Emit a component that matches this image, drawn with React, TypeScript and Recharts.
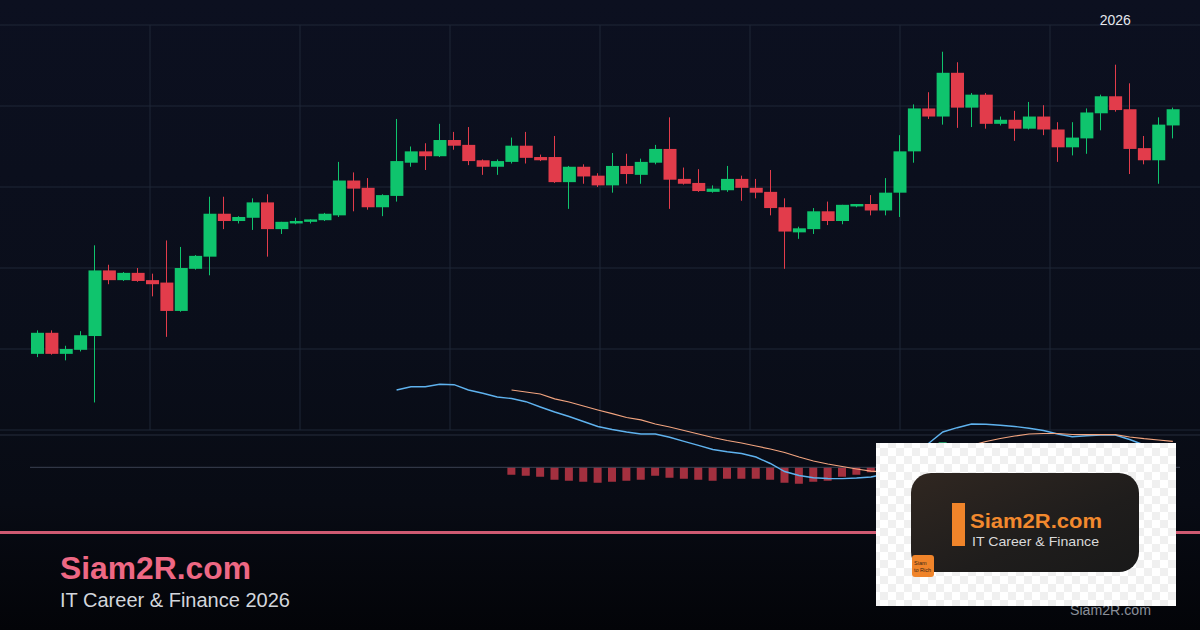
import React from "react";
import {
  Bar,
  CartesianGrid,
  Cell,
  ComposedChart,
  Line,
  ReferenceLine,
  XAxis,
  YAxis,
} from "recharts";

const FONT = '"Liberation Sans", Arial, Helvetica, sans-serif';
const WIDTH = 1200;
const HEIGHT = 630;

// daily candles (weekdays), first session of the series
const FIRST_DAY = Date.UTC(2025, 8, 18);
const DAY_COUNT = 80;
const dates: string[] = [];
for (let t = FIRST_DAY; dates.length < DAY_COUNT; t += 86400000) {
  const wd = new Date(t).getUTCDay();
  if (wd !== 0 && wd !== 6) dates.push(new Date(t).toISOString().slice(0, 10));
}

const OPEN = [
  109.4, 112.0, 109.4, 109.9, 111.6, 119.7, 118.5, 119.4, 118.5, 118.2,
  114.7, 119.9, 121.4, 126.7, 125.8, 126.2, 128.1, 124.8, 125.5, 125.7,
  125.9, 126.5, 130.8, 129.9, 127.5, 128.9, 133.0, 134.4, 133.8, 135.8,
  135.2, 133.3, 132.5, 133.1, 135.1, 133.7, 133.7, 130.6, 132.5, 131.4,
  130.2, 132.6, 131.5, 133.0, 134.7, 131.0, 130.5, 129.4, 129.6, 131.0,
  129.9, 129.4, 127.5, 124.4, 124.8, 127.0, 125.8, 127.6, 127.9, 127.1,
  129.3, 134.4, 139.7, 138.7, 144.1, 139.8, 141.4, 137.8, 138.3, 137.2,
  138.7, 137.1, 134.9, 136.0, 139.1, 141.2, 139.6, 134.8, 133.3, 137.6,
];
const HIGH = [
  112.3, 112.3, 110.4, 112.2, 122.8, 120.4, 119.5, 120.0, 119.3, 123.4,
  122.6, 121.6, 128.8, 128.8, 126.4, 128.6, 129.1, 125.7, 126.2, 126.0,
  126.8, 133.1, 131.8, 131.1, 129.1, 138.4, 135.0, 135.4, 137.8, 136.8,
  137.4, 133.4, 133.4, 136.1, 136.8, 134.0, 136.3, 132.6, 132.8, 131.7,
  134.2, 134.1, 133.5, 135.2, 138.6, 132.4, 132.2, 130.2, 132.6, 131.4,
  131.0, 132.1, 128.6, 125.1, 127.4, 128.2, 127.8, 127.9, 129.0, 131.1,
  136.4, 140.2, 141.7, 146.7, 145.4, 141.6, 141.6, 138.7, 139.4, 140.5,
  140.1, 138.0, 138.0, 139.7, 141.4, 145.1, 142.8, 136.3, 138.6, 139.8,
];
const LOW = [
  109.0, 109.3, 108.6, 109.7, 103.4, 118.0, 118.4, 118.3, 116.5, 111.5,
  114.6, 119.8, 119.1, 124.8, 125.5, 124.7, 121.4, 124.2, 125.4, 125.5,
  125.8, 126.3, 127.0, 127.2, 126.4, 128.2, 132.5, 132.1, 133.7, 134.6,
  132.7, 131.5, 131.5, 132.9, 132.9, 133.2, 130.5, 127.3, 130.4, 130.0,
  129.3, 130.4, 130.4, 132.8, 127.3, 130.3, 129.4, 129.3, 129.4, 128.3,
  128.6, 126.5, 119.9, 123.6, 124.2, 125.3, 125.4, 127.5, 126.5, 126.5,
  126.3, 133.0, 138.4, 137.7, 137.3, 137.4, 137.2, 137.6, 135.7, 137.1,
  136.4, 133.1, 133.9, 134.1, 137.0, 139.3, 131.6, 132.8, 130.4, 136.0,
];
const CLOSE = [
  112.0, 109.4, 110.0, 111.7, 119.7, 118.5, 119.4, 118.4, 118.0, 114.7,
  120.0, 121.5, 126.7, 125.8, 126.3, 128.1, 124.8, 125.7, 125.8, 126.0,
  126.7, 130.8, 129.8, 127.5, 129.0, 133.2, 134.4, 133.8, 135.8, 135.1,
  133.2, 132.5, 133.2, 135.1, 133.6, 133.3, 130.6, 132.5, 131.3, 130.2,
  132.6, 131.6, 133.1, 134.7, 130.9, 130.4, 129.5, 129.8, 131.0, 129.9,
  129.3, 127.4, 124.5, 124.9, 127.0, 125.8, 127.8, 127.9, 127.1, 129.3,
  134.4, 139.7, 138.7, 144.1, 139.8, 141.4, 137.8, 138.3, 137.2, 138.7,
  137.1, 134.9, 136.1, 139.2, 141.2, 139.5, 134.7, 133.3, 137.7, 139.6,
];

const MACD: (number | null)[] = [
  null, null, null, null, null, null, null, null, null, null,
  null, null, null, null, null, null, null, null, null, null,
  null, null, null, null, null, 7.73, 8.06, 8.06, 8.3, 8.26,
  7.73, 7.4, 7.03, 6.88, 6.56, 6.03, 5.53, 5.08, 4.58, 4.08,
  3.78, 3.53, 3.33, 3.33, 3.0, 2.6, 2.2, 1.78, 1.56, 1.38,
  1.03, 0.38, -0.42, -0.82, -1.04, -1.12, -1.13, -1.07, -0.97, -0.67,
  0.13, 1.23, 2.38, 3.53, 3.96, 4.33, 4.3, 4.2, 4.08, 3.9,
  3.68, 3.33, 3.06, 3.15, 3.23, 3.23, 2.78, 2.23, 1.83, 1.73,
];
const SIGNAL: (number | null)[] = [
  null, null, null, null, null, null, null, null, null, null,
  null, null, null, null, null, null, null, null, null, null,
  null, null, null, null, null, null, null, null, null, null,
  null, null, null, 7.73, 7.53, 7.33, 6.85, 6.53, 6.13, 5.73,
  5.36, 4.98, 4.75, 4.33, 4.03, 3.68, 3.33, 2.98, 2.68, 2.43,
  2.13, 1.83, 1.48, 1.03, 0.63, 0.33, 0.08, -0.17, -0.39, -0.45,
  -0.3, 0.05, 0.5, 1.0, 1.7, 2.2, 2.58, 2.88, 3.13, 3.33,
  3.38, 3.38, 3.28, 3.26, 3.26, 3.26, 3.03, 2.86, 2.73, 2.6,
];
const HIST: (number | null)[] = [
  null, null, null, null, null, null, null, null, null, null,
  null, null, null, null, null, null, null, null, null, null,
  null, null, null, null, null, null, null, null, null, null,
  null, null, null, -0.74, -0.84, -0.94, -1.24, -1.34, -1.44, -1.54,
  -1.44, -1.34, -1.24, -0.84, -1.04, -1.14, -1.24, -1.34, -1.14, -1.14,
  -1.14, -1.24, -1.54, -1.64, -1.44, -1.34, -0.94, -0.74, -0.5, -0.22,
  0.43, 1.18, 1.88, 2.53, 2.26, 2.13, 1.72, 1.32, 0.95, 0.57,
  0.3, -0.05, -0.22, -0.11, -0.03, -0.03, -0.25, -0.63, -0.9, 0,
];

const PRICE_TICKS = [100, 110, 120, 130, 140, 150];
const GRID_COLUMNS = [1, 2, 3, 4, 5, 6, 7];
const GRID_COLUMN_COUNT = 8;
const AXIS_PADDING = { left: 30, right: 20 };
const PANEL_DIVIDER = 3.23;

const GREEN = "#0fc46d";
const RED = "#e23c4b";
const GRID = "#1f2636";
const MACD_COLOR = "#5fb2ee";
const SIGNAL_COLOR = "#f2a47f";
const HIST_DOWN = "#a3303f";
const HIST_UP = "#1f8a5e";

const data = dates.map((date, i) => ({
  date,
  open: OPEN[i],
  high: HIGH[i],
  low: LOW[i],
  close: CLOSE[i],
  macd: MACD[i],
  signal: SIGNAL[i],
  hist: HIST[i],
}));

// first session of each new year gets a label on the top axis
const yearTicks = dates.filter(
  (d, i) => i > 0 && d.slice(0, 4) !== dates[i - 1].slice(0, 4)
);

const Candle = (props: any) => {
  const { x, y, width, height, payload } = props;
  if (!payload || height == null) return null;
  const { open, close, high, low } = payload;
  const top = Math.min(y, y + height);
  const h = Math.abs(height);
  const color = close >= open ? GREEN : RED;
  const k = h / (high - low);
  const bodyTop = top + (high - Math.max(open, close)) * k;
  const bodyBottom = top + (high - Math.min(open, close)) * k;
  const cx = Math.round(x + width / 2) - 0.5;
  return (
    <g>
      <line x1={cx} x2={cx} y1={top} y2={top + h} stroke={color} strokeWidth={1} />
      <rect
        x={x}
        y={bodyTop}
        width={width}
        height={Math.max(1.5, bodyBottom - bodyTop)}
        fill={color}
      />
    </g>
  );
};

// zero line only spans the candle range, not the whole panel
const ZeroLine = (p: any) => (
  <line
    x1={p.x1 + AXIS_PADDING.left}
    x2={p.x2 - AXIS_PADDING.right}
    y1={p.y1}
    y2={p.y2}
    stroke="#3b4252"
    strokeWidth={1}
  />
);

const layer: React.CSSProperties = { position: "absolute", left: 0, top: 0 };

export default function App() {
  return (
    <div
      style={{
        position: "absolute",
        left: 0,
        top: 0,
        width: WIDTH,
        height: HEIGHT,
        overflow: "hidden",
        fontFamily: FONT,
        background:
          "linear-gradient(180deg, #0c1020 0%, #0a0e1a 55%, #080b14 80%, #030408 100%)",
      }}
    >
      {/* price panel */}
      <div style={layer}>
        <ComposedChart
          width={WIDTH}
          height={HEIGHT}
          data={data}
          margin={{ top: 0, right: 0, bottom: 200, left: 0 }}
        >
          <XAxis
            dataKey="date"
            orientation="top"
            height={25}
            padding={AXIS_PADDING}
            ticks={yearTicks}
            interval={0}
            tickFormatter={(d: string) => d.slice(0, 4)}
            tick={{ fill: "#e6e8ee", fontSize: 14, fontFamily: FONT }}
            tickLine={false}
            axisLine={false}
            tickSize={0}
            tickMargin={0}
          />
          <YAxis
            yAxisId="price"
            type="number"
            domain={[100, 150]}
            ticks={PRICE_TICKS}
            allowDataOverflow
            hide
          />
          <CartesianGrid
            yAxisId="price"
            stroke={GRID}
            strokeWidth={1}
            verticalCoordinatesGenerator={({ offset }: any) =>
              GRID_COLUMNS.map(
                (c) => offset.left + (offset.width * c) / GRID_COLUMN_COUNT
              )
            }
          />
          <Bar
            yAxisId="price"
            dataKey={(d: any) => [d.low, d.high]}
            barSize={13}
            shape={(p: any) => <Candle {...p} />}
            isAnimationActive={false}
          />
        </ComposedChart>
      </div>

      {/* MACD panel */}
      <div style={layer}>
        <ComposedChart
          width={WIDTH}
          height={HEIGHT}
          data={data}
          margin={{ top: 367.3, right: 0, bottom: 112.7, left: 0 }}
        >
          <XAxis dataKey="date" padding={AXIS_PADDING} hide />
          <YAxis
            yAxisId="macd"
            type="number"
            domain={[-5, 10]}
            allowDataOverflow
            hide
          />
          <ReferenceLine yAxisId="macd" y={PANEL_DIVIDER} stroke="#262d3d" strokeWidth={1} />
          <ReferenceLine yAxisId="macd" y={0} shape={(p: any) => <ZeroLine {...p} />} />
          <Bar yAxisId="macd" dataKey="hist" barSize={8} isAnimationActive={false}>
            {data.map((d, i) => (
              <Cell key={i} fill={d.hist != null && d.hist >= 0 ? HIST_UP : HIST_DOWN} />
            ))}
          </Bar>
          <Line
            yAxisId="macd"
            dataKey="macd"
            stroke={MACD_COLOR}
            strokeWidth={1.4}
            dot={false}
            isAnimationActive={false}
          />
          <Line
            yAxisId="macd"
            dataKey="signal"
            stroke={SIGNAL_COLOR}
            strokeWidth={1.2}
            dot={false}
            isAnimationActive={false}
          />
        </ComposedChart>
      </div>

      {/* footer + logo card */}
      <svg width={WIDTH} height={HEIGHT} style={layer}>
        <defs>
          <pattern id="checker" width="16" height="16" patternUnits="userSpaceOnUse">
            <rect width="16" height="16" fill="#ffffff" />
            <rect width="8" height="8" fill="#f0f0f0" />
            <rect x="8" y="8" width="8" height="8" fill="#f0f0f0" />
          </pattern>
          <linearGradient id="card" x1="0" y1="0" x2="1" y2="1">
            <stop offset="0" stopColor="#302721" />
            <stop offset="0.6" stopColor="#1f1d1c" />
            <stop offset="1" stopColor="#191919" />
          </linearGradient>
        </defs>
        <rect x={0} y={531} width={WIDTH} height={3} fill="#cf5a72" />
        <text x={60} y={579} fontSize={31} fontWeight={700} fill="#ee6884" textLength={191} lengthAdjust="spacingAndGlyphs" fontFamily={FONT}>
          Siam2R.com
        </text>
        <text x={60} y={607} fontSize={20} fill="#d3d6dc" textLength={230} lengthAdjust="spacingAndGlyphs" fontFamily={FONT}>
          IT Career &amp; Finance 2026
        </text>
        <text x={1070} y={615} fontSize={14} fill="#8a8f99" textLength={81} lengthAdjust="spacingAndGlyphs" fontFamily={FONT}>
          Siam2R.com
        </text>

        <rect x={876} y={443} width={300} height={163} fill="url(#checker)" />
        <rect x={911} y={473} width={228} height={99} rx={20} fill="url(#card)" />
        <rect x={952} y={503} width={13} height={43} fill="#f0842a" />
        <text x={970} y={528} fontSize={20} fontWeight={700} fill="#f2892e" textLength={132} lengthAdjust="spacingAndGlyphs" fontFamily={FONT}>
          Siam2R.com
        </text>
        <text x={972} y={545.5} fontSize={13} fill="#d9d9d9" textLength={127} lengthAdjust="spacingAndGlyphs" fontFamily={FONT}>
          IT Career &amp; Finance
        </text>
        <rect x={912} y={555} width={22} height={22} rx={3} fill="#f0842a" />
        <text x={914} y={565} fontSize={5.5} fill="#3b2414" fontFamily={FONT}>
          Siam
        </text>
        <text x={914} y={571.5} fontSize={5.5} fill="#3b2414" fontFamily={FONT}>
          to Rich
        </text>
      </svg>
    </div>
  );
}
